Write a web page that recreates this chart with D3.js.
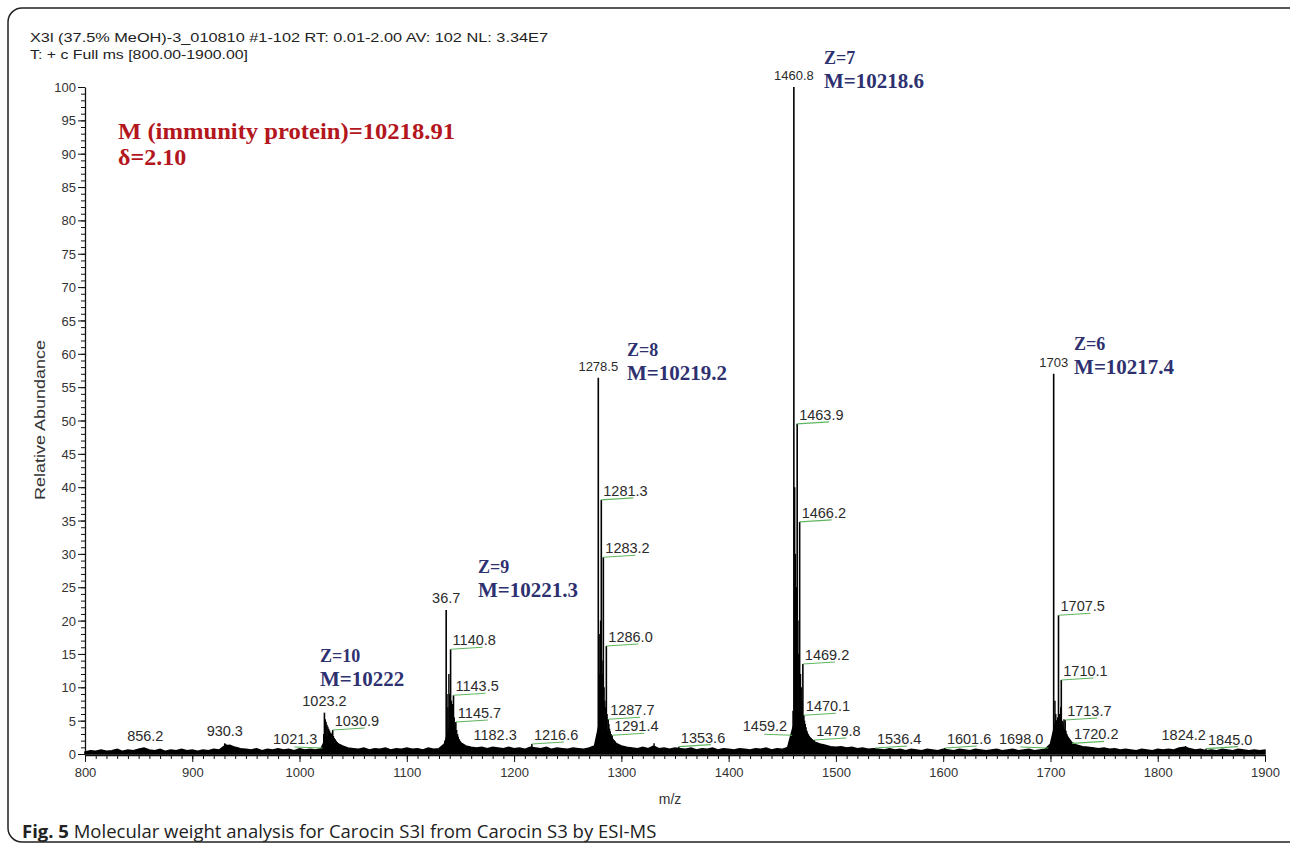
<!DOCTYPE html>
<html>
<head>
<meta charset="utf-8">
<script src="https://cdn.jsdelivr.net/npm/d3@7"></script>
<style>
  body { margin: 0; background: #fff; }
  svg { font-family: Arial, "Liberation Sans", sans-serif; }
</style>
</head>
<body>
<div id="chart"></div>
<script>
// Labelled peaks of the spectrum (m/z, relative abundance, label text, label side)
var peakMz = [856.2, 930.3, 1021.3, 1023.2, 1030.9, 1136.7, 1140.8, 1143.5, 1145.7, 1182.3,
  1216.6, 1278.5, 1281.3, 1283.2, 1286.0, 1287.7, 1291.4, 1353.6, 1459.2, 1460.8,
  1463.9, 1466.2, 1469.2, 1470.1, 1479.8, 1536.4, 1601.6, 1698.0, 1703.0, 1707.5,
  1710.1, 1713.7, 1720.2, 1824.2, 1845.0];
var peakInt = [0.9, 1.6, 0.9, 6.2, 3.6, 21.6, 15.7, 8.8, 4.8, 1.0,
  1.5, 56.4, 38.1, 29.5, 16.2, 5.2, 2.8, 1.1, 2.8, 100,
  49.5, 34.8, 13.5, 5.8, 2.1, 0.9, 0.9, 0.9, 57.0, 20.8,
  11.1, 5.1, 1.6, 1.0, 0.8];
var peakLabel = ["856.2", "930.3", "1021.3", "1023.2", "1030.9", "36.7", "1140.8", "1143.5", "1145.7", "1182.3",
  "1216.6", "1278.5", "1281.3", "1283.2", "1286.0", "1287.7", "1291.4", "1353.6", "1459.2", "1460.8",
  "1463.9", "1466.2", "1469.2", "1470.1", "1479.8", "1536.4", "1601.6", "1698.0", "1703", "1707.5",
  "1710.1", "1713.7", "1720.2", "1824.2", "1845.0"];
var peakSide = ["c", "c", "l", "c", "r", "c", "r", "r", "r", "c",
  "r", "c", "r", "r", "r", "r", "r", "r", "l", "c",
  "r", "r", "r", "r", "r", "r", "r", "l", "c", "r",
  "r", "r", "r", "c", "r"];

// Unlabelled sticks inside the isotope clusters
var sideMz = [931, 932, 933, 934, 935, 936, 937, 938, 940,
  1022.5, 1024, 1024.8, 1025.6, 1026.4, 1027.2, 1028, 1028.8, 1029.6, 1030.4, 1031.6, 1032.4, 1033.2, 1034, 1035, 1036, 1037, 1038, 1039, 1040, 1042, 1044, 1046, 1048,
  1135.5, 1137.5, 1138.3, 1139.2, 1140, 1141.6, 1142.4, 1143, 1144.2, 1144.9, 1146.5, 1147.3, 1148, 1149, 1150, 1151, 1152, 1154, 1156, 1158, 1160, 1163,
  1277, 1279.3, 1280, 1280.6, 1282, 1282.6, 1283.9, 1284.6, 1285.3, 1286.7, 1288.4, 1289, 1289.7, 1290.4, 1292, 1293, 1294, 1295, 1296, 1298, 1300, 1302, 1305, 1308, 1330.5,
  1457.5, 1458.5, 1460, 1461.6, 1462.3, 1463.1, 1464.6, 1465.4, 1467, 1467.7, 1468.4, 1470.8, 1471.5, 1472.2, 1473, 1474, 1475, 1476, 1477, 1478, 1481, 1483, 1485, 1487, 1490, 1493, 1496, 1500, 1505, 1510, 1515, 1520,
  1701.5, 1702.3, 1704.2, 1705, 1706, 1706.7, 1708.3, 1709, 1709.6, 1711, 1711.8, 1712.6, 1714.5, 1715.3, 1716, 1717, 1718, 1719, 1721, 1722, 1724, 1726, 1728, 1730, 1733, 1736, 1740, 1745, 1750, 1755,
  1822, 1826, 1828];
var sideInt = [1.5, 1.4, 1.3, 1.2, 1.1, 1.0, 0.9, 0.8, 0.7,
  3.0, 5.2, 4.8, 4.4, 4.1, 3.8, 3.5, 3.2, 3.0, 3.2, 2.7, 2.4, 2.2, 2.0, 1.8, 1.6, 1.5, 1.3, 1.2, 1.1, 1.0, 0.9, 0.8, 0.7,
  2.0, 9.0, 7.0, 12.0, 9.0, 8.0, 7.5, 6.0, 5.5, 4.5, 3.6, 3.0, 2.6, 2.2, 1.9, 1.6, 1.5, 1.3, 1.1, 1.0, 0.9, 0.8,
  2.5, 18, 12, 20, 14, 12, 10, 8, 7, 6, 4.5, 3.8, 3.4, 3.0, 2.3, 2.1, 1.9, 1.7, 1.5, 1.3, 1.2, 1.0, 0.9, 0.8, 1.6,
  1.0, 1.5, 6.5, 40, 30, 25, 20, 15, 12, 10, 8, 5, 4.5, 4.0, 3.5, 3.0, 2.7, 2.4, 2.2, 2.0, 1.7, 1.5, 1.4, 1.3, 1.2, 1.1, 1.0, 0.9, 1.0, 0.8, 0.9, 0.7,
  2.0, 3.0, 8.0, 6.0, 4.5, 5.5, 6.0, 5.5, 7.0, 5.0, 4.8, 5.2, 3.5, 3.0, 2.6, 2.3, 2.0, 1.8, 1.5, 1.4, 1.3, 1.2, 1.1, 1.0, 1.1, 0.9, 1.0, 0.8, 0.9, 0.7,
  0.8, 1.2, 0.9];

// Baseline profile, one reading every 5 m/z from 800 to 1900
var noiseInt = [
  0.3, 0.5, 0.4, 0.6, 0.4, 0.5, 0.7, 0.4, 0.6, 0.5,
  0.7, 0.9, 0.6, 0.5, 0.7, 0.4, 0.6, 0.5, 0.7, 0.5,
  0.6, 0.4, 0.6, 0.5, 0.7, 0.6, 1.2, 1.3, 1.0, 0.8,
  0.7, 0.6, 0.8, 0.5, 0.7, 0.6, 0.8, 0.6, 0.7, 0.5,
  0.8, 0.6, 0.7, 0.6, 0.8, 2.5, 2.6, 1.6, 1.2, 0.9,
  0.8, 0.7, 0.9, 0.6, 0.8, 0.7, 0.9, 0.6, 0.8, 0.7,
  0.9, 0.7, 0.8, 0.6, 0.9, 0.7, 0.8, 1.5, 4.0, 3.0,
  1.7, 1.2, 1.0, 0.9, 1.0, 0.8, 1.0, 0.9, 0.8, 1.0,
  0.8, 0.9, 0.7, 1.0, 0.9, 0.8, 1.0, 0.7, 0.9, 0.8,
  0.7, 0.9, 0.8, 0.7, 0.9, 1.2, 5.0, 4.0, 2.5, 1.6,
  1.2, 1.0, 0.9, 0.8, 1.0, 0.8, 1.2, 0.8, 0.9, 0.7,
  0.9, 0.8, 0.7, 0.9, 0.6, 0.8, 0.7, 0.9, 0.6, 0.8,
  0.7, 0.6, 0.8, 0.7, 0.6, 0.8, 0.7, 0.9, 0.6, 0.8,
  0.7, 1.0, 4.0, 6.0, 4.0, 2.6, 1.8, 1.5, 1.3, 1.1,
  1.0, 1.1, 0.9, 1.0, 0.8, 0.9, 0.7, 0.8, 0.7, 0.6,
  0.8, 0.6, 0.7, 0.5, 0.7, 0.6, 0.5, 0.7, 0.6, 0.5,
  0.7, 0.6, 0.5, 0.7, 0.6, 0.5, 0.7, 0.6, 0.5, 0.6,
  0.7, 0.5, 0.6, 0.7, 0.5, 0.6, 0.7, 0.5, 0.6, 0.7,
  1.5, 5.0, 4.5, 2.8, 1.7, 1.3, 1.1, 1.0, 0.9, 0.8,
  0.9, 0.7, 0.8, 0.6, 0.7, 0.6, 0.5, 0.7, 0.6, 0.5,
  0.7, 0.6, 0.7, 0.6, 0.9, 1.0, 0.8, 0.6, 0.7, 0.5,
  0.6, 0.5, 0.7, 0.6, 0.5, 0.7, 0.6, 0.5, 0.6, 0.5, 0.6];
var noiseMz = d3.range(800, 1901, 5);

// Charge state annotations (anchor in data units)
var chargeText = ["Z=10", "Z=9", "Z=8", "Z=7", "Z=6"];
var massText = ["M=10222", "M=10221.3", "M=10219.2", "M=10218.6", "M=10217.4"];
var chargeMz = [1019.1, 1166.4, 1305.3, 1488.9, 1722.0];
var chargeAb = [13.8, 27.1, 59.7, 103.4, 60.6];

// Axis ticks
var xTicks = [800, 900, 1000, 1100, 1200, 1300, 1400, 1500, 1600, 1700, 1800, 1900];
var xTickLabels = ["800", "900", "1000", "1100", "1200", "1300", "1400", "1500", "1600", "1700", "1800", "1900"];
var yTicks = [0, 5, 10, 15, 20, 25, 30, 35, 40, 45, 50, 55, 60, 65, 70, 75, 80, 85, 90, 95, 100];

var serif = "'Liberation Serif', 'Times New Roman', serif";

var svgWidth = 1290;
var svgHeight = 850;

var margin = { top: 87, right: 25, bottom: 96, left: 85 };
var width = svgWidth - margin.left - margin.right;
var height = svgHeight - margin.top - margin.bottom;

var svg = d3.select("#chart")
  .append("svg")
  .attr("width", svgWidth)
  .attr("height", svgHeight);

// rounded figure frame
svg.append("rect")
  .attr("x", 8).attr("y", 8)
  .attr("width", 1310).attr("height", 834)
  .attr("rx", 14).attr("ry", 14)
  .attr("fill", "none")
  .attr("stroke", "#222")
  .attr("stroke-width", 1.5);

// header lines
svg.append("text")
  .attr("x", 30).attr("y", 42)
  .style("font-size", "13px")
  .attr("fill", "#222")
  .attr("textLength", 518)
  .attr("lengthAdjust", "spacingAndGlyphs")
  .text("X3l (37.5% MeOH)-3_010810 #1-102  RT: 0.01-2.00  AV: 102  NL: 3.34E7");
svg.append("text")
  .attr("x", 30).attr("y", 59)
  .style("font-size", "13px")
  .attr("fill", "#222")
  .attr("textLength", 218)
  .attr("lengthAdjust", "spacingAndGlyphs")
  .text("T: + c Full ms [800.00-1900.00]");

var chartGroup = svg.append("g")
  .attr("transform", `translate(${margin.left}, ${margin.top})`);

var xScale = d3.scaleLinear().domain([800, 1900]).range([0, width]);
var yScale = d3.scaleLinear().domain([0, 100]).range([height, 0]);

// minor ticks
chartGroup.append("g")
  .attr("transform", `translate(0, ${height + 1})`)
  .call(d3.axisBottom(xScale).tickValues(d3.range(800, 1901, 10)).tickSize(4).tickFormat(""))
  .call(g => g.select(".domain").remove())
  .selectAll("line").attr("stroke", "#111");

chartGroup.append("g")
  .call(d3.axisLeft(yScale).tickValues(d3.range(0, 101, 1)).tickSize(4).tickFormat(""))
  .call(g => g.select(".domain").remove())
  .selectAll("line").attr("stroke", "#111");

// major axes
var bottomAxis = d3.axisBottom(xScale)
  .tickValues(xTicks)
  .tickFormat((d, i) => xTickLabels[i])
  .tickSize(7)
  .tickSizeOuter(0)
  .tickPadding(6);

var leftAxis = d3.axisLeft(yScale)
  .tickValues(yTicks)
  .tickSize(7)
  .tickSizeOuter(0)
  .tickPadding(2);

var xAxisG = chartGroup.append("g")
  .attr("transform", `translate(0, ${height + 1})`)
  .call(bottomAxis);
var yAxisG = chartGroup.append("g")
  .call(leftAxis);

[xAxisG, yAxisG].forEach(function (g) {
  g.attr("font-family", null).attr("font-size", null);
  g.selectAll("text")
    .style("font-size", "13px")
    .style("font-family", "Arial, 'Liberation Sans', sans-serif")
    .attr("fill", "#333");
  g.selectAll("line").attr("stroke", "#111");
  g.select(".domain").attr("stroke", "#111").attr("stroke-width", 1.3);
});
yAxisG.selectAll("text").attr("dy", "0.35em");

// baseline noise as a filled band
var noise = noiseMz.map((m, i) => ({ mz: m, v: noiseInt[i] }));
chartGroup.append("path")
  .datum(noise)
  .attr("fill", "#000")
  .attr("stroke", "#000")
  .attr("stroke-width", 1.5)
  .attr("d", d3.area()
    .x(d => xScale(d.mz))
    .y0(yScale(0))
    .y1(d => yScale(d.v)));

// cluster sticks
var sticks = sideMz.map((m, i) => ({ mz: m, v: sideInt[i] }));
chartGroup.selectAll(".side")
  .data(sticks)
  .enter()
  .append("line")
  .attr("class", "side")
  .attr("x1", d => xScale(d.mz))
  .attr("x2", d => xScale(d.mz))
  .attr("y1", yScale(0))
  .attr("y2", d => yScale(d.v))
  .attr("stroke", "#000")
  .attr("stroke-width", 1.4);

// labelled peaks
var peaks = peakMz.map((m, i) => ({ mz: m, v: peakInt[i], label: peakLabel[i], side: peakSide[i] }));
chartGroup.selectAll(".peak")
  .data(peaks)
  .enter()
  .append("line")
  .attr("class", "peak")
  .attr("x1", d => xScale(d.mz))
  .attr("x2", d => xScale(d.mz))
  .attr("y1", yScale(0))
  .attr("y2", d => yScale(d.v))
  .attr("stroke", "#000")
  .attr("stroke-width", 1.6);

// green leader lines
chartGroup.selectAll(".leader")
  .data(peaks.filter(d => d.side !== "c"))
  .enter()
  .append("line")
  .attr("class", "leader")
  .attr("x1", d => d.side === "r" ? xScale(d.mz) : xScale(d.mz) - 28)
  .attr("y1", d => d.side === "r" ? yScale(d.v) : yScale(d.v) - 1)
  .attr("x2", d => d.side === "r" ? xScale(d.mz) + 32 : xScale(d.mz))
  .attr("y2", d => d.side === "r" ? yScale(d.v) - 2 : yScale(d.v))
  .attr("stroke", "#5fb55f")
  .attr("stroke-width", 1.1);

// peak labels
chartGroup.selectAll(".plabel")
  .data(peaks)
  .enter()
  .append("text")
  .attr("class", "plabel")
  .attr("x", d => d.side === "c" ? xScale(d.mz) : (d.side === "r" ? xScale(d.mz) + 2 : xScale(d.mz) - 5))
  .attr("y", d => d.side === "c" ? yScale(d.v) - 7 : yScale(d.v) - 4)
  .attr("text-anchor", d => d.side === "c" ? "middle" : (d.side === "r" ? "start" : "end"))
  .style("font-size", d => d.v > 50 ? "13px" : "14.5px")
  .attr("fill", "#2b2b2b")
  .text(d => d.label);

// charge state / mass annotations
var charges = chargeText.map((t, i) => ({ z: t, m: massText[i], mz: chargeMz[i], ab: chargeAb[i] }));
var annot = chartGroup.selectAll(".charge")
  .data(charges)
  .enter()
  .append("g")
  .attr("class", "charge")
  .attr("transform", d => `translate(${xScale(d.mz)}, ${yScale(d.ab)})`);
annot.append("text")
  .style("font-family", serif)
  .style("font-size", "18px")
  .style("font-weight", "bold")
  .attr("fill", "#2e3170")
  .text(d => d.z);
annot.append("text")
  .attr("y", 24)
  .style("font-family", serif)
  .style("font-size", "21px")
  .style("font-weight", "bold")
  .attr("fill", "#2e3170")
  .text(d => d.m);

// red summary
svg.append("text")
  .attr("x", 118).attr("y", 139)
  .style("font-family", serif)
  .style("font-size", "24px")
  .style("font-weight", "bold")
  .attr("fill", "#b3161c")
  .attr("textLength", 337)
  .attr("lengthAdjust", "spacingAndGlyphs")
  .text("M (immunity protein)=10218.91");
svg.append("text")
  .attr("x", 118).attr("y", 165)
  .style("font-family", serif)
  .style("font-size", "24px")
  .style("font-weight", "bold")
  .attr("fill", "#b3161c")
  .text("δ=2.10");

// axis titles
svg.append("text")
  .attr("transform", "rotate(-90)")
  .attr("x", -420)
  .attr("y", 45)
  .attr("text-anchor", "middle")
  .style("font-size", "15px")
  .attr("fill", "#333")
  .attr("textLength", 160)
  .attr("lengthAdjust", "spacingAndGlyphs")
  .text("Relative Abundance");

svg.append("text")
  .attr("x", 670)
  .attr("y", 804)
  .attr("text-anchor", "middle")
  .style("font-size", "14px")
  .attr("fill", "#333")
  .text("m/z");

// caption
var cap = svg.append("text")
  .attr("x", 22)
  .attr("y", 838)
  .style("font-family", "'Open Sans', 'Noto Sans', sans-serif")
  .style("font-size", "18.5px")
  .attr("fill", "#222");
cap.append("tspan").style("font-weight", "bold").text("Fig. 5");
cap.append("tspan").text(" Molecular weight analysis for Carocin S3I from Carocin S3 by ESI-MS");
</script>
</body>
</html>
